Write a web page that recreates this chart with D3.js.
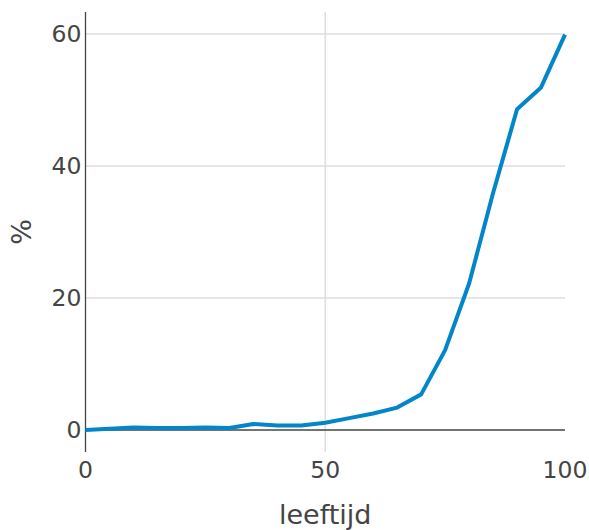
<!DOCTYPE html>
<html><head><meta charset="utf-8">
<script src="https://cdn.jsdelivr.net/npm/d3@7"></script>
<style>body{margin:0;background:#fff}svg{display:block}</style>
</head><body>
<script>
const ages = [0,5,10,15,20,25,30,35,40,45,50,55,60,65,70,75,80,85,90,95,100];
const percent = [0,0.2,0.4,0.3,0.3,0.4,0.3,0.9,0.7,0.7,1.1,1.8,2.5,3.4,5.4,12.1,22.2,35.9,48.6,51.9,59.9];
const xTicks = [0,50,100];
const yTicks = [0,20,40,60];
const xLabel = "leeftijd";
const yLabel = "%";

const W=589,H=530;
const L=85.5,R=565,T=12,B=452;
const svg=d3.select("body").append("svg").attr("width",W).attr("height",H);
const x=d3.scaleLinear().domain([0,100]).range([L,R]);
const y=d3.scaleLinear().domain([-3.33,63.33]).range([B,T]);
const font="DejaVu Sans, sans-serif";

// grid
svg.append("g").selectAll("line").data(yTicks.filter(d=>d!==0)).join("line")
  .attr("x1",L).attr("x2",R).attr("y1",d=>y(d)).attr("y2",d=>y(d))
  .attr("stroke","#dedede").attr("stroke-width",1.5);
svg.append("g").selectAll("line").data(xTicks.filter(d=>d!==0&&d!==100)).join("line")
  .attr("x1",d=>x(d)).attr("x2",d=>x(d)).attr("y1",T).attr("y2",B)
  .attr("stroke","#dedede").attr("stroke-width",1.5);

// zero line
svg.append("line").attr("x1",L).attr("x2",R).attr("y1",y(0)).attr("y2",y(0))
  .attr("stroke","#444").attr("stroke-width",1.3);
// y axis line
svg.append("line").attr("x1",L).attr("x2",L).attr("y1",T).attr("y2",B)
  .attr("stroke","#444").attr("stroke-width",1.3);

// tick labels
svg.append("g").selectAll("text").data(yTicks).join("text")
  .attr("x",L-4).attr("y",d=>y(d)).attr("dy","0.36em")
  .attr("text-anchor","end").attr("font-family",font).attr("font-size",23.5)
  .attr("fill","#444").text(d=>d);
svg.append("g").selectAll("text").data(xTicks).join("text")
  .attr("x",d=>x(d)).attr("y",478)
  .attr("text-anchor","middle").attr("font-family",font).attr("font-size",23.5)
  .attr("fill","#444").text(d=>d);

// axis titles
svg.append("text").attr("x",(L+R)/2).attr("y",524).attr("text-anchor","middle")
  .attr("font-family",font).attr("font-size",27).attr("fill","#444").text(xLabel);
svg.append("text").attr("transform",`translate(31,${(T+B)/2}) rotate(-90)`)
  .attr("text-anchor","middle").attr("font-family",font).attr("font-size",27)
  .attr("fill","#444").text(yLabel);

// line
const line=d3.line().x((d,i)=>x(ages[i])).y(d=>y(d));
svg.append("path").datum(percent).attr("d",line).attr("fill","none")
  .attr("stroke","#0286c9").attr("stroke-width",4).attr("stroke-linejoin","round");
</script>
</body></html>
